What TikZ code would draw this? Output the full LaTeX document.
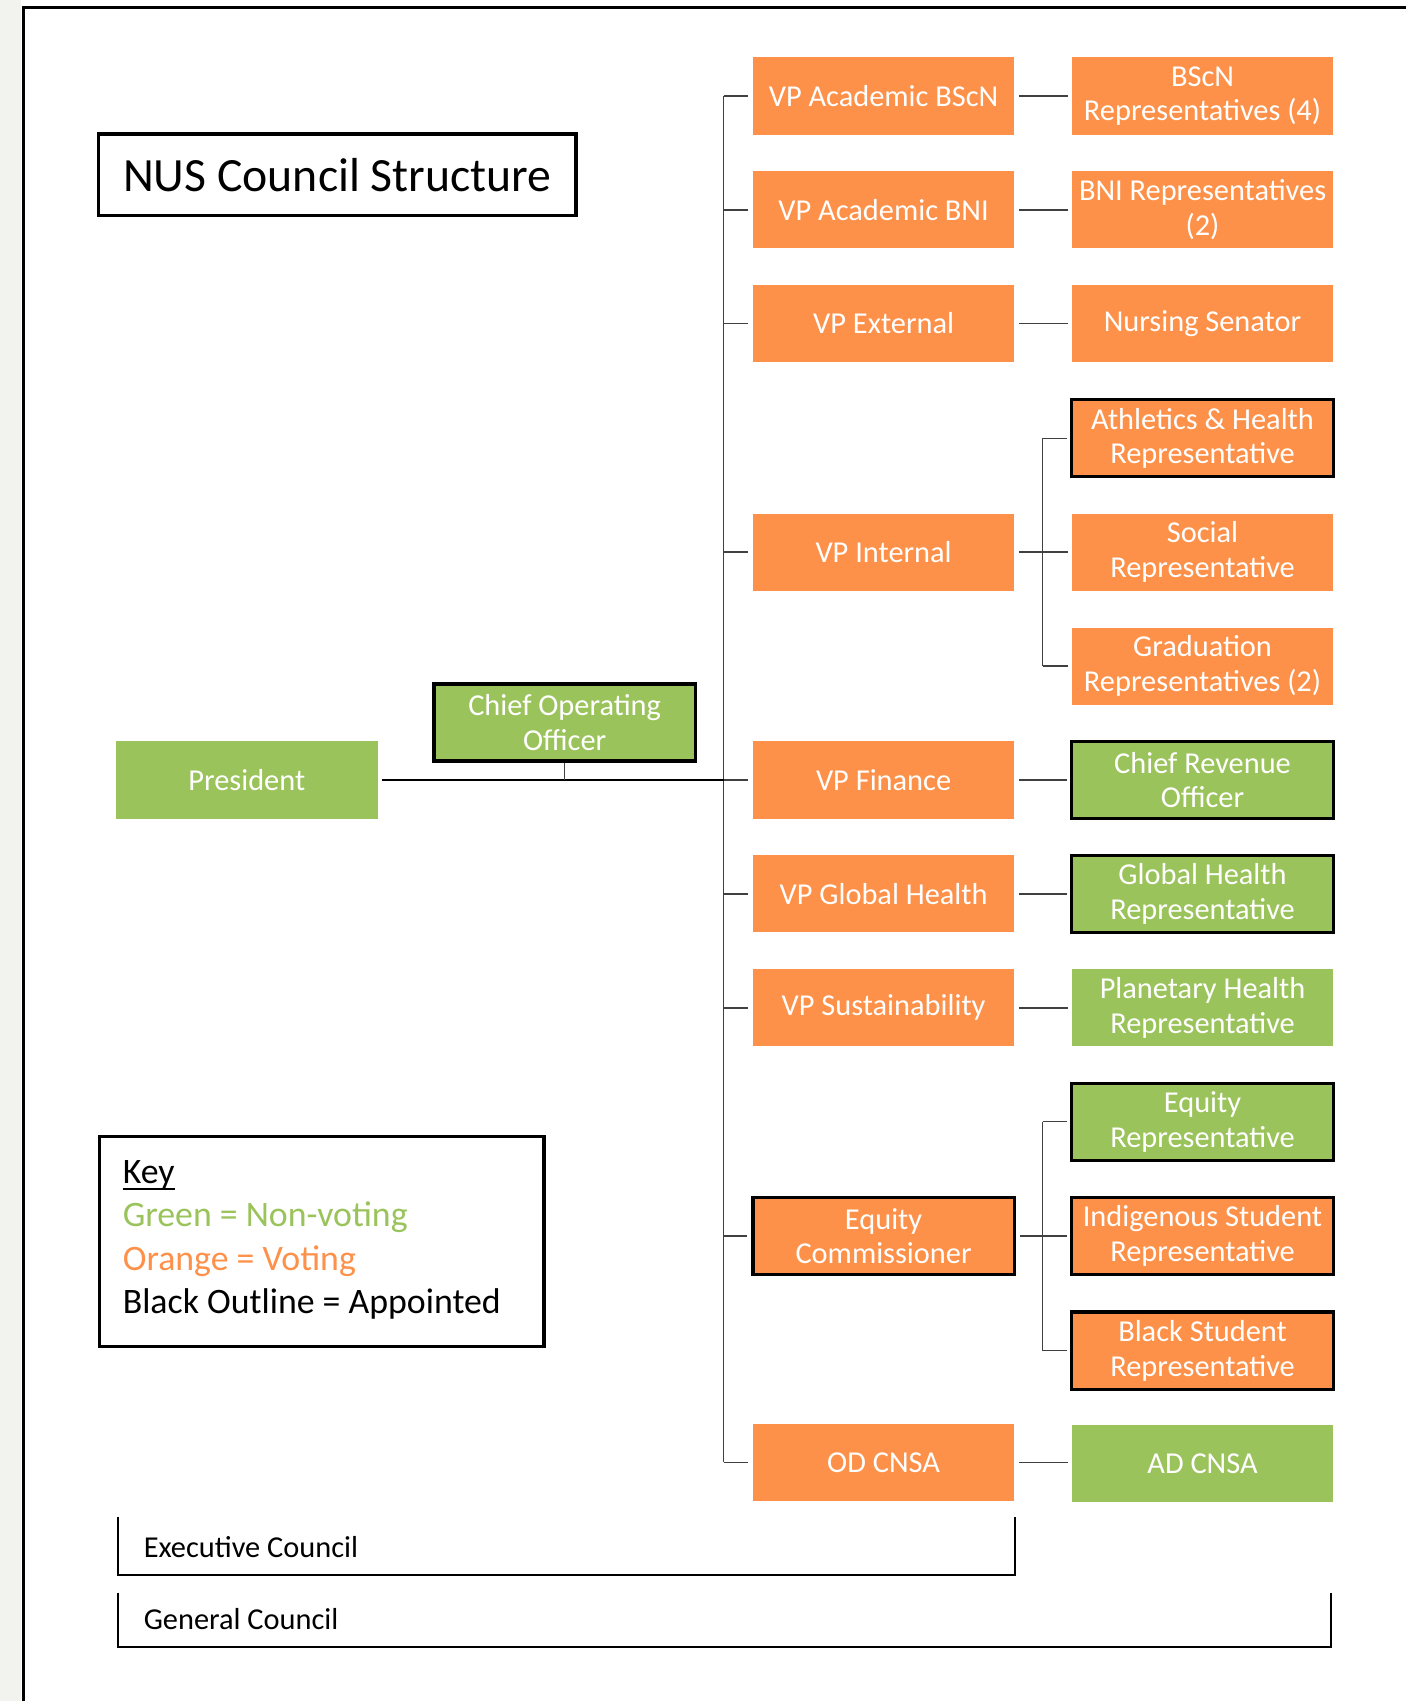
\documentclass[tikz,border=0pt]{standalone}
\usepackage{fontspec}
\setmainfont{Carlito}
\definecolor{org}{HTML}{FD9149}
\definecolor{grn}{HTML}{9BC35B}
\definecolor{conn}{HTML}{404040}
\definecolor{strip}{HTML}{F2F2EE}
\tikzset{
  box/.style={rectangle, minimum width=241pt, minimum height=71pt, inner sep=1pt,
    text=white, align=center, font=\fontsize{28}{32}\selectfont},
  obox/.style={box, fill=org},
  gbox/.style={box, fill=grn},
  appt/.style={draw=black, line width=3pt},
  link/.style={draw=conn, line width=1.4pt},
  blabel/.style={anchor=west, font=\fontsize{28}{32}\selectfont},
  keytxt/.style={anchor=base west, font=\fontsize{33}{38}\selectfont, inner sep=0pt}
}
\begin{document}
\begin{tikzpicture}[x=1pt,y=-1pt]
\useasboundingbox (0,0) rectangle (1296,1568);
\fill[white] (0,0) rectangle (1296,1568);
\fill[strip] (0,0) rectangle (19,1568);
\draw[line width=3pt] (22,1568) -- (22,7) -- (1296,7);

% title
\node[draw, line width=3pt, minimum width=440pt, minimum height=75pt, font=\fontsize{44}{50}\selectfont, inner sep=0pt] (title) at (311,161) {NUS Council Structure};

% left
\node[gbox] (pres) at (227.5,719) {President};
\node[gbox, appt] (coo) at (520.5,666) {Chief Operating\\Officer};

% VP column
\node[obox] (vpbscn) at (814.5,88.5) {VP Academic BScN};
\node[obox] (vpbni) at (814.5,193.5) {VP Academic BNI};
\node[obox] (vpext) at (814.5,298) {VP External};
\node[obox] (vpint) at (814.5,509) {VP Internal};
\node[obox] (vpfin) at (814.5,719) {VP Finance};
\node[obox] (vpgh) at (814.5,824) {VP Global Health};
\node[obox] (vpsus) at (814.5,929) {VP Sustainability};
\node[obox, appt] (eqcom) at (814.5,1139.5) {Equity\\Commissioner};
\node[obox] (odcnsa) at (814.5,1348) {OD CNSA};

% right column
\node[obox] (bscnrep) at (1108.5,88.5) {BScN\\Representatives (4)};
\node[obox] (bnirep) at (1108.5,193.5) {BNI Representatives\\(2)};
\node[obox] (senator) at (1108.5,298) {Nursing Senator};
\node[obox, appt] (athrep) at (1108.5,404) {Athletics \& Health\\Representative};
\node[obox] (socrep) at (1108.5,509) {Social\\Representative};
\node[obox] (gradrep) at (1108.5,614) {Graduation\\Representatives (2)};
\node[gbox, appt] (cro) at (1108.5,719) {Chief Revenue\\Officer};
\node[gbox, appt] (ghrep) at (1108.5,824) {Global Health\\Representative};
\node[gbox] (phrep) at (1108.5,929) {Planetary Health\\Representative};
\node[gbox, appt] (eqrep) at (1108.5,1034) {Equity\\Representative};
\node[obox, appt] (indrep) at (1108.5,1139.5) {Indigenous Student\\Representative};
\node[obox, appt] (blkrep) at (1108.5,1245) {Black Student\\Representative};
\node[gbox] (adcnsa) at (1108.5,1349) {AD CNSA};

% connectors
\coordinate (tk) at (667,0);
\coordinate (bx) at (961,0);
\draw[link] (vpbscn.west -| tk) -- (odcnsa.west -| tk);
\foreach \n in {vpbscn,vpbni,vpext,vpint,vpfin,vpgh,vpsus,eqcom,odcnsa}
  \draw[link, shorten >=4pt] (\n.west -| tk) -- (\n.west);
\draw[line width=2pt, shorten <=4pt] (pres.east) -- (pres.east -| tk);
\draw[link] (coo.south) -- (coo.south |- pres.east);

\draw[link, shorten <=4pt, shorten >=3pt] (vpbscn.east) -- (bscnrep.west);
\draw[link, shorten <=4pt, shorten >=3pt] (vpbni.east) -- (bnirep.west);
\draw[link, shorten <=4pt, shorten >=3pt] (vpext.east) -- (senator.west);
\draw[link, shorten <=4pt, shorten >=3pt] (vpfin.east) -- (cro.west);
\draw[link, shorten <=4pt, shorten >=3pt] (vpgh.east) -- (ghrep.west);
\draw[link, shorten <=4pt, shorten >=3pt] (vpsus.east) -- (phrep.west);
\draw[link, shorten <=4pt, shorten >=3pt] (odcnsa.east) -- (odcnsa.east -| adcnsa.west);

\draw[link, shorten <=4pt] (vpint.east) -- (vpint.east -| bx);
\draw[link] (athrep.west -| bx) -- (gradrep.west -| bx);
\foreach \n in {athrep,socrep,gradrep}
  \draw[link, shorten >=3pt] (\n.west -| bx) -- (\n.west);

\draw[link, shorten <=4pt] (eqcom.east) -- (eqcom.east -| bx);
\draw[link] (eqrep.west -| bx) -- (blkrep.west -| bx);
\foreach \n in {eqrep,indrep,blkrep}
  \draw[link, shorten >=3pt] (\n.west -| bx) -- (\n.west);

% key
\node[draw, line width=3pt, minimum width=410pt, minimum height=194pt, anchor=north west, inner sep=0pt] (keybox) at (90,1046) {};
\node[keytxt] (keyt) at (113,1091) {Key};
\draw[line width=1.6pt] ([yshift=-5pt]keyt.base west) -- ([yshift=-5pt]keyt.base east);
\node[keytxt, text=grn] (keyg) at (113,1131) {Green = Non-voting};
\node[keytxt, text=org] (keyo) at (113,1171) {Orange = Voting};
\node[keytxt] (keyb) at (113,1211) {Black Outline = Appointed};

% councils
\draw[line width=2pt] (109,1398) -- (109,1452) -- (936,1452) -- (936,1398);
\node[blabel] (exec) at (129,1426) {Executive Council};
\draw[line width=2pt] (109,1468) -- (109,1518) -- (1227,1518) -- (1227,1468);
\node[blabel] (gen) at (129,1492) {General Council};
\end{tikzpicture}
\end{document}
